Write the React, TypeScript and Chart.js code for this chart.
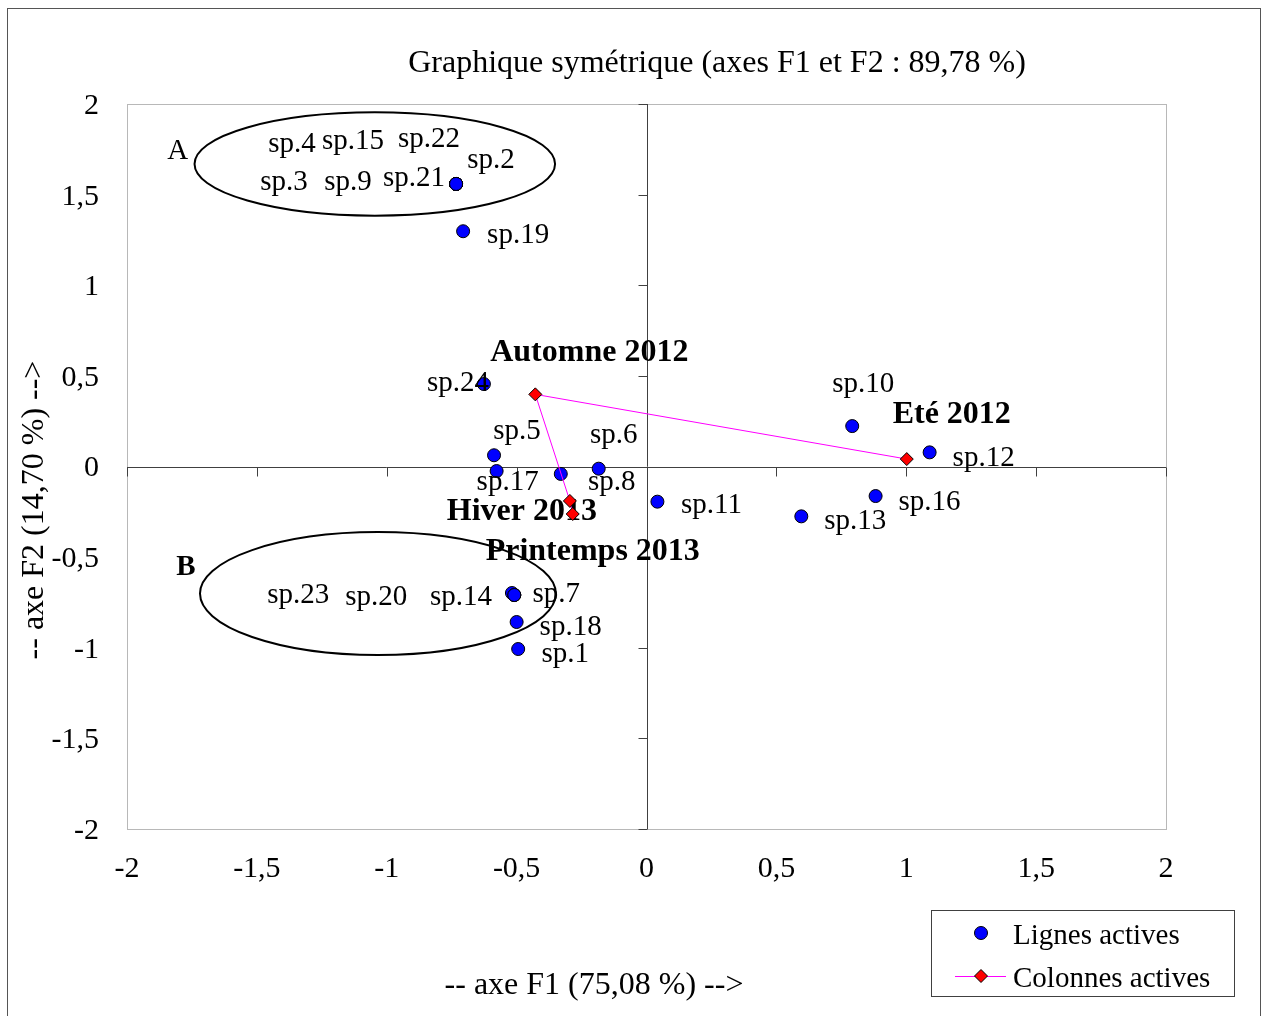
import React, { useEffect, useRef } from "react";
import { Chart, registerables } from "chart.js";

Chart.register(...registerables);

// ---- data ----
const rowLabels = [
  "sp.1", "sp.2", "sp.3", "sp.4", "sp.5", "sp.6", "sp.7", "sp.8", "sp.9", "sp.10", "sp.11", "sp.12",
  "sp.13", "sp.14", "sp.15", "sp.16", "sp.17", "sp.18", "sp.19", "sp.20", "sp.21", "sp.22", "sp.23", "sp.24",
];
const rowF1 = [
  -0.494, -0.733, -0.733, -0.733, -0.587, -0.184, -0.509, -0.33, -0.733, 0.792, 0.042, 1.09,
  0.596, -0.518, -0.733, 0.882, -0.577, -0.5, -0.706, -0.509, -0.733, -0.733, -0.509, -0.626,
];
const rowF2 = [
  -1.007, 1.559, 1.559, 1.559, 0.062, -0.012, -0.709, -0.041, 1.559, 0.223, -0.194, 0.078,
  -0.275, -0.698, 1.559, -0.163, -0.025, -0.858, 1.298, -0.709, 1.559, 1.559, -0.709, 0.455,
];
const colLabels = ["Eté 2012", "Automne 2012", "Hiver 2013", "Printemps 2013"];
const colF1 = [1.002, -0.428, -0.295, -0.284];
const colF2 = [0.041, 0.398, -0.19, -0.262];
const xAxisTicks = [-2, -1.5, -1, -0.5, 0, 0.5, 1, 1.5, 2];
const yAxisTicks = [-2, -1.5, -1, -0.5, 0, 0.5, 1, 1.5, 2];
const groupNames = ["A", "B"];
const groupCx = [-1.046, -1.034];
const groupCy = [1.669, -0.701];
const groupRx = [0.694, 0.685];
const groupRy = [0.285, 0.339];

const chartTitle = "Graphique symétrique (axes F1 et F2 : 89,78 %)";
const xTitle = "-- axe F1 (75,08 %) -->";
const yTitle = "-- axe F2 (14,70 %) -->";

// ---- label placement (pixel offsets from each mark) ----
const rowLabelOffsets: [number, number][] = [
  [47, 3], [35, -26], [-172, -4], [-164, -42], [23, -26], [15, -35], [42, -3], [51, 6], [-108, -4], [11, -44], [54, 2], [54, 4],
  [54, 3], [-51, 2], [-103, -45], [54, 4], [11, 9], [54, 3], [55, 2], [-138, 0], [-42, -8], [-27, -47], [-216, -2], [-26, -3],
];
const colLabelOffsets: [number, number][] = [[45, -46], [54, -44], [-48, 9], [20, 36]];
const groupLabelOffsets: [number, number][] = [[-197, -15], [-192, -28]];
const groupLabelBold = [false, true];

const FAMILY = '"Liberation Serif", "Times New Roman", serif';
const TEXT_DY = 2;
const fmt = (v: number) => String(v).replace(".", ",");

const overlay = {
  id: "overlay",
  beforeDraw(chart: any) {
    const { ctx } = chart;
    ctx.save();
    ctx.fillStyle = "#ffffff";
    ctx.fillRect(0, 0, chart.width, chart.height);
    ctx.strokeStyle = "#555555";
    ctx.lineWidth = 1;
    ctx.strokeRect(7.5, 8.5, 1253, 1030);
    ctx.restore();
  },
  beforeDatasetsDraw(chart: any) {
    const { ctx, chartArea: a, scales } = chart;
    const x = scales.x;
    const y = scales.y;
    ctx.save();
    // plot frame
    ctx.strokeStyle = "#b8b8b8";
    ctx.lineWidth = 1;
    ctx.strokeRect(Math.round(a.left) + 0.5, Math.round(a.top) + 0.5, Math.round(a.right - a.left), Math.round(a.bottom - a.top));
    // zero axes with ticks
    const x0 = Math.round(x.getPixelForValue(0)) + 0.5;
    const y0 = Math.round(y.getPixelForValue(0)) + 0.5;
    ctx.strokeStyle = "#404040";
    ctx.beginPath();
    ctx.moveTo(a.left, y0);
    ctx.lineTo(a.right, y0);
    ctx.moveTo(x0, a.top);
    ctx.lineTo(x0, a.bottom);
    xAxisTicks.forEach((v) => {
      const px = Math.round(x.getPixelForValue(v)) + 0.5;
      ctx.moveTo(px, y0);
      ctx.lineTo(px, y0 + 9);
    });
    yAxisTicks.forEach((v) => {
      const py = Math.round(y.getPixelForValue(v)) + 0.5;
      ctx.moveTo(x0 - 9, py);
      ctx.lineTo(x0, py);
    });
    ctx.stroke();
    // group ellipses
    ctx.strokeStyle = "#000000";
    ctx.lineWidth = 2;
    groupNames.forEach((name, i) => {
      const cx = x.getPixelForValue(groupCx[i]);
      const cy = y.getPixelForValue(groupCy[i]);
      const rx = Math.abs(x.getPixelForValue(groupCx[i] + groupRx[i]) - cx);
      const ry = Math.abs(y.getPixelForValue(groupCy[i] + groupRy[i]) - cy);
      ctx.beginPath();
      ctx.ellipse(cx, cy, rx, ry, 0, 0, Math.PI * 2);
      ctx.stroke();
      ctx.fillStyle = "#000";
      ctx.font = `${groupLabelBold[i] ? "bold " : ""}29px ${FAMILY}`;
      ctx.textAlign = "center";
      ctx.textBaseline = "middle";
      ctx.fillText(name, cx + groupLabelOffsets[i][0], cy + groupLabelOffsets[i][1] + TEXT_DY);
    });
    // titles
    ctx.fillStyle = "#000";
    ctx.font = `32px ${FAMILY}`;
    ctx.textAlign = "center";
    ctx.textBaseline = "middle";
    ctx.fillText(chartTitle, 717, 62 + TEXT_DY);
    ctx.fillText(xTitle, 594, 984 + TEXT_DY);
    ctx.save();
    ctx.translate(33 + TEXT_DY, 510);
    ctx.rotate(-Math.PI / 2);
    ctx.fillText(yTitle, 0, 0);
    ctx.restore();
    ctx.restore();
  },
  beforeDatasetDraw(chart: any, args: any) {
    if (args.index !== 1) return;
    const { ctx } = chart;
    const meta = chart.getDatasetMeta(1);
    ctx.save();
    ctx.fillStyle = "#000";
    ctx.font = `bold 32px ${FAMILY}`;
    ctx.textAlign = "center";
    ctx.textBaseline = "middle";
    colLabels.forEach((lab, i) => {
      const el = meta.data[i];
      ctx.fillText(lab, el.x + colLabelOffsets[i][0], el.y + colLabelOffsets[i][1] + TEXT_DY);
    });
    ctx.restore();
  },
  afterDatasetDraw(chart: any, args: any) {
    if (args.index !== 0) return;
    const { ctx } = chart;
    const meta = chart.getDatasetMeta(0);
    ctx.save();
    ctx.fillStyle = "#000";
    ctx.font = `29px ${FAMILY}`;
    ctx.textAlign = "center";
    ctx.textBaseline = "middle";
    rowLabels.forEach((lab, i) => {
      const el = meta.data[i];
      ctx.fillText(lab, el.x + rowLabelOffsets[i][0], el.y + rowLabelOffsets[i][1] + TEXT_DY);
    });
    ctx.restore();
  },
  afterDraw(chart: any) {
    const { ctx } = chart;
    const ds = chart.data.datasets;
    ctx.save();
    // legend box
    ctx.fillStyle = "#fff";
    ctx.fillRect(931, 910, 304, 87);
    ctx.strokeStyle = "#404040";
    ctx.lineWidth = 1;
    ctx.strokeRect(931.5, 910.5, 303, 86);
    ctx.font = `29px ${FAMILY}`;
    ctx.textAlign = "left";
    ctx.textBaseline = "middle";
    const rows = [933, 976];
    ds.forEach((d: any, i: number) => {
      const cy = rows[i];
      if (d.showLine) {
        ctx.strokeStyle = d.borderColor;
        ctx.lineWidth = 1;
        ctx.beginPath();
        ctx.moveTo(955, cy + 0.5);
        ctx.lineTo(1006, cy + 0.5);
        ctx.stroke();
      }
      ctx.fillStyle = d.pointBackgroundColor;
      ctx.strokeStyle = d.pointBorderColor;
      ctx.lineWidth = 1;
      ctx.beginPath();
      if (d.pointStyle === "rectRot") {
        const r = d.pointRadius;
        ctx.moveTo(981, cy - r);
        ctx.lineTo(981 + r, cy);
        ctx.lineTo(981, cy + r);
        ctx.lineTo(981 - r, cy);
        ctx.closePath();
      } else {
        ctx.arc(981, cy, d.pointRadius, 0, Math.PI * 2);
      }
      ctx.fill();
      ctx.stroke();
      ctx.fillStyle = "#000";
      ctx.fillText(d.label, 1013, cy + 1 + TEXT_DY);
    });
    ctx.restore();
  },
};

export default function App() {
  const canvasRef = useRef<HTMLCanvasElement | null>(null);

  useEffect(() => {
    if (!canvasRef.current) return;
    const chart = new Chart(canvasRef.current, {
      type: "scatter",
      data: {
        datasets: [
          {
            label: "Lignes actives",
            data: rowF1.map((v, i) => ({ x: v, y: rowF2[i] })),
            pointRadius: 6.5,
            pointStyle: "circle",
            pointBackgroundColor: "#0000FF",
            pointBorderColor: "#000000",
            pointBorderWidth: 1,
            backgroundColor: "#0000FF",
            borderColor: "#000000",
            showLine: false,
            order: 2,
          } as any,
          {
            label: "Colonnes actives",
            data: colF1.map((v, i) => ({ x: v, y: colF2[i] })),
            showLine: true,
            borderColor: "#FF00FF",
            borderWidth: 1,
            tension: 0,
            pointStyle: "rectRot",
            pointRadius: 6.5,
            pointBackgroundColor: "#FF0000",
            pointBorderColor: "#000000",
            pointBorderWidth: 1,
            backgroundColor: "#FF0000",
            order: 1,
          } as any,
        ],
      },
      options: {
        animation: false,
        responsive: false,
        events: [],
        layout: { padding: { left: 7, right: 100, top: 104, bottom: 127 } },
        plugins: {
          legend: { display: false },
          tooltip: { enabled: false },
          title: { display: false },
        },
        scales: {
          x: {
            type: "linear",
            min: -2,
            max: 2,
            afterFit: (s: any) => {
              s.height = 60;
            },
            afterBuildTicks: (s: any) => {
              s.ticks = xAxisTicks.map((v) => ({ value: v }));
            },
            grid: { display: false, drawTicks: false },
            border: { display: false },
            ticks: {
              padding: 22,
              color: "#000",
              font: { family: FAMILY, size: 30 },
              maxRotation: 0,
              autoSkip: false,
              callback: (v: any) => fmt(Number(v)),
            },
          },
          y: {
            type: "linear",
            min: -2,
            max: 2,
            afterFit: (s: any) => {
              s.width = 120;
            },
            afterBuildTicks: (s: any) => {
              s.ticks = yAxisTicks.map((v) => ({ value: v }));
            },
            grid: { display: false, drawTicks: false },
            border: { display: false },
            ticks: {
              padding: 28,
              labelOffset: 2,
              color: "#000",
              font: { family: FAMILY, size: 30 },
              autoSkip: false,
              callback: (v: any) => fmt(Number(v)),
            },
          },
        },
      },
      plugins: [overlay],
    });
    return () => chart.destroy();
  }, []);

  return (
    <div style={{ position: "absolute", left: 0, top: 0, width: 1266, height: 1016, background: "#fff" }}>
      <canvas ref={canvasRef} width={1266} height={1016} style={{ width: 1266, height: 1016, display: "block" }} />
    </div>
  );
}
